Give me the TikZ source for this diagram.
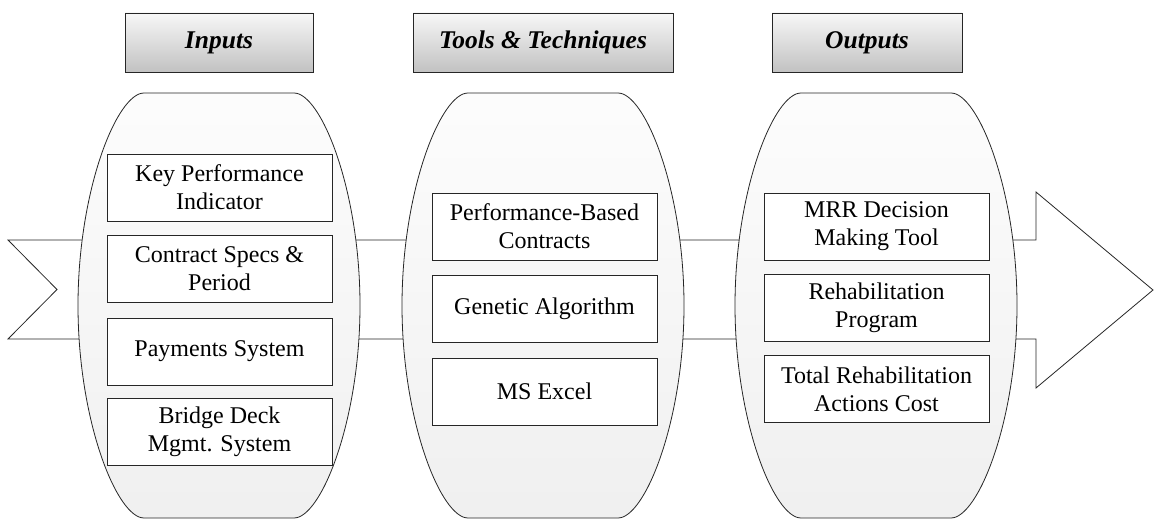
\documentclass[tikz,border=0pt]{standalone}
\usepackage{fontspec}
\setmainfont{Liberation Serif}
\begin{document}
\begin{tikzpicture}[x=1pt,y=1pt,
  thinline/.style={line width=0.8pt,draw=black!85},
  header/.style={thinline,top color=black!3,bottom color=black!24,
    minimum height=59pt,inner sep=0pt,
    font=\bfseries\itshape\fontsize{25.5}{30}\selectfont},
  item/.style={thinline,fill=white,minimum width=225pt,minimum height=67pt,
    inner sep=0pt,align=center,font=\fontsize{24}{28}\selectfont},
  pod/.style={thinline,top color=white!99!black,bottom color=black!6}]
\useasboundingbox (0,0) rectangle (1154,-519);

% process band with notched tail and arrow head
\draw[thinline,fill=white] (8,-240) -- (1036,-240) -- (1036,-192) -- (1153,-290)
  -- (1036,-388) -- (1036,-339) -- (8,-339) -- (57,-289.5) -- cycle;

% rounded pods holding each group
\newcommand\drawpod[1]{%
  \path[pod] ({#1-75},-93) -- ({#1+75},-93)
    .. controls ({#1+102},-93) and ({#1+141},-190) .. ({#1+141},-305.5)
    .. controls ({#1+141},-421) and ({#1+102},-518) .. ({#1+75},-518)
    -- ({#1-75},-518)
    .. controls ({#1-102},-518) and ({#1-141},-421) .. ({#1-141},-305.5)
    .. controls ({#1-141},-190) and ({#1-102},-93) .. cycle;}
\drawpod{219}
\drawpod{543}
\drawpod{876}

% column headings
\node[header,minimum width=188pt] (hin)  at (219,-42.5) {Inputs};
\node[header,minimum width=260pt] (htt)  at (543,-42.5) {Tools \& Techniques};
\node[header,minimum width=190pt] (hout) at (867,-42.5) {Outputs};

% inputs
\node[item] (in1) at (219.5,-187.5) {Key Performance\\Indicator};
\node[item] (in2) at (219.5,-268.5) {Contract Specs \&\\Period};
\node[item] (in3) at (219.5,-351.5) {Payments System};
\node[item] (in4) at (219.5,-431.5) {Bridge Deck\\Mgmt. System};

% tools and techniques
\node[item] (tt1) at (544.5,-226.5) {Performance-Based\\Contracts};
\node[item] (tt2) at (544.5,-308.5) {Genetic Algorithm};
\node[item] (tt3) at (544.5,-391.5) {MS Excel};

% outputs
\node[item] (out1) at (876.5,-226.5) {MRR Decision\\Making Tool};
\node[item] (out2) at (876.5,-307.5) {Rehabilitation\\Program};
\node[item] (out3) at (876.5,-389)   {Total Rehabilitation\\Actions Cost};
\end{tikzpicture}
\end{document}
